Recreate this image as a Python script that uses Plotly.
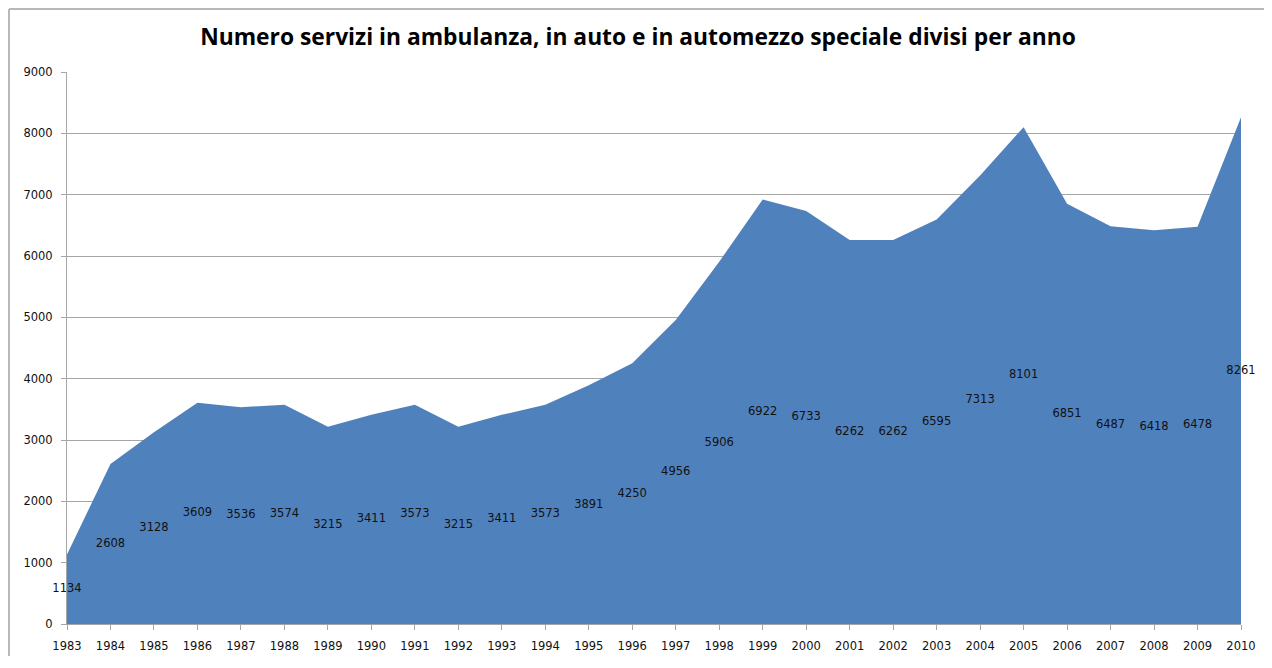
import plotly.graph_objects as go

years = list(range(1983, 2011))
servizi = [1134, 2608, 3128, 3609, 3536, 3574, 3215, 3411, 3573, 3215, 3411, 3573,
           3891, 4250, 4956, 5906, 6922, 6733, 6262, 6262, 6595, 7313, 8101, 6851,
           6487, 6418, 6478, 8261]
y_ticks = list(range(0, 10000, 1000))

W, H = 1256, 648
L, R, T, B = 59, 23, 64, 32
PW, PH = W - L - R, H - T - B

fig = go.Figure()
fig.add_trace(go.Scatter(
    x=years, y=servizi, mode="lines", fill="tozeroy",
    line=dict(color="#4F81BD", width=0), fillcolor="#4F81BD",
    hoverinfo="x+y", showlegend=False))
fig.add_trace(go.Scatter(
    x=years, y=[v / 2 for v in servizi], mode="text",
    text=[str(v) for v in servizi], textposition="middle center",
    textfont=dict(family="DejaVu Sans", size=11.5, color="#111111"),
    hoverinfo="skip", showlegend=False, cliponaxis=False))

fig.update_layout(
    width=W, height=H, autosize=False,
    margin=dict(l=L, r=R, t=T, b=B, autoexpand=False),
    paper_bgcolor="white", plot_bgcolor="white",
    title=dict(text="<b>Numero servizi in ambulanza, in auto e in automezzo speciale divisi per anno</b>",
               x=(638 - 8) / W, xanchor="center", y=1 - 29 / H, yanchor="middle",
               font=dict(family="Open Sans, sans-serif", size=22.8, color="#000000")),
    xaxis=dict(range=[1983, 2010], tickvals=years, ticktext=[str(y) for y in years],
               showgrid=False, showline=True, linecolor="#A6A6A6", linewidth=1, automargin=False,
               ticks="outside", ticklen=5, tickcolor="#A6A6A6", ticklabelstandoff=6,
               tickfont=dict(family="DejaVu Sans", size=11.5, color="#111111"), zeroline=False),
    yaxis=dict(range=[0, 9000], tickvals=y_ticks, showgrid=True, gridcolor="#A6A6A6", gridwidth=1,
               showline=True, linecolor="#A6A6A6", linewidth=1, automargin=False,
               ticks="outside", ticklen=5, tickcolor="#A6A6A6", ticklabelstandoff=6,
               tickfont=dict(family="DejaVu Sans", size=11.5, color="#111111"), zeroline=False),
)
# chart-area border (only the left and top edges fall inside the picture)
bx0 = -(L - 1) / PW
by1 = (PH + T - 1) / PH
fig.add_shape(type="line", xref="paper", yref="paper", x0=bx0, x1=bx0, y0=-(B + 10) / PH, y1=by1,
              line=dict(color="#B8B8B8", width=2), layer="below")
fig.add_shape(type="line", xref="paper", yref="paper", x0=bx0, x1=(W - L + 10) / PW, y0=by1, y1=by1,
              line=dict(color="#B8B8B8", width=2), layer="below")
fig.write_html("out.html")
